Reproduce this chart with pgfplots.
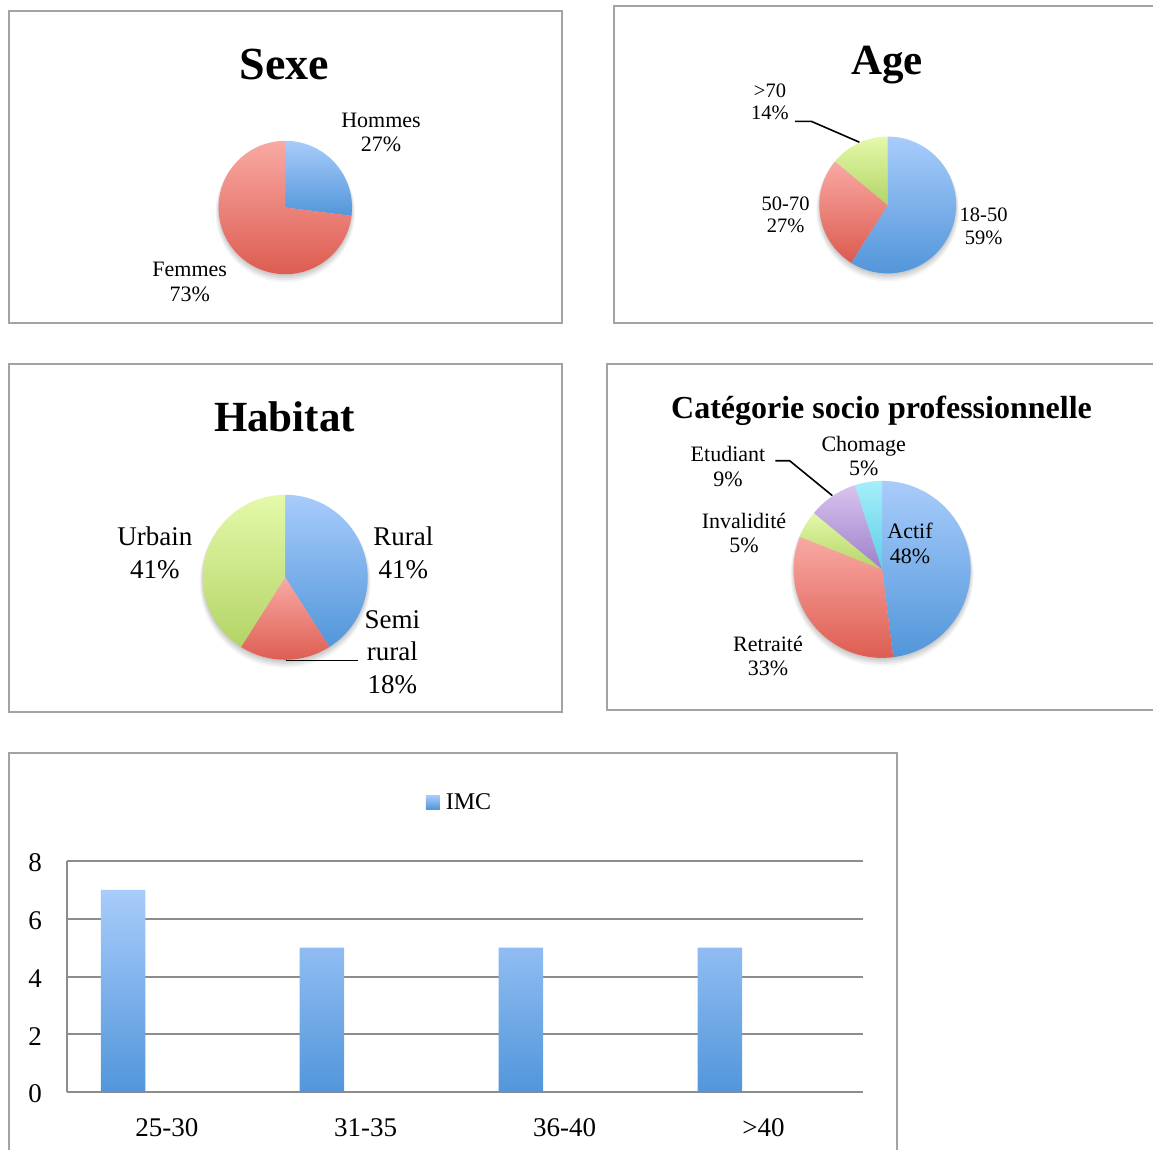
\documentclass[border=0pt]{standalone}
\usepackage{fontspec}
\setmainfont{Liberation Serif}
\usepackage{pgfplots}
\pgfplotsset{compat=1.18}
\definecolor{bT}{HTML}{A8CCFB}
\definecolor{bB}{HTML}{5296DA}
\definecolor{rT}{HTML}{F9A9A4}
\definecolor{rB}{HTML}{DC5A4E}
\definecolor{gT}{HTML}{E4F9AA}
\definecolor{gB}{HTML}{B3D466}
\definecolor{cT}{HTML}{A6EEFA}
\definecolor{cB}{HTML}{5CCEE8}
\definecolor{pT}{HTML}{D8C3EE}
\definecolor{pB}{HTML}{9D80CB}
\definecolor{frame}{HTML}{A3A3A3}
\definecolor{grid}{HTML}{8C8C8C}
\newcommand\fs[2]{\fontsize{#1}{#2}\selectfont}
% slice: #1 cumulative start (%), #2 share (%), #3 top colour, #4 bottom colour, #5 radius (pt)
\newcommand\slice[5]{%
  \pgfmathsetmacro\sa{90-3.6*#1}%
  \pgfmathsetmacro\ea{90-3.6*(#1+#2)}%
  \edef\tmp{\noexpand\path[top color=#3,bottom color=#4] (axis cs:0,0) -- ++(\sa:#5pt) arc[start angle=\sa,end angle=\ea,radius=#5pt] -- cycle;}%
  \tmp}
\newcommand\pieshadow[1]{%
  \path[fill=black,fill opacity=0.06] (axis cs:0,-2) circle[radius=#1pt];
  \path[fill=black,fill opacity=0.06] (axis cs:0,-3) circle[radius=#1pt+1pt];
  \path[fill=black,fill opacity=0.05] (axis cs:0,-4) circle[radius=#1pt+2pt];
  \path[fill=black,fill opacity=0.04] (axis cs:0,-5) circle[radius=#1pt+3pt];
}
\pgfplotsset{pie/.style={hide axis, x=1pt, y=1pt, xmin=-100, xmax=100, ymin=-100, ymax=100, anchor=center, clip=false}}
\begin{document}
\begin{tikzpicture}
\begin{scope}[x=1pt,y=1pt]
\useasboundingbox (0,0) rectangle (1153,-1150);
\fill[white] (0,0) rectangle (1153,-1150);
% frames
\draw[frame, line width=2pt] (9,-11) rectangle (561.5,-323);
\draw[frame, line width=2pt] (613.5,-6) rectangle (1165,-322.5);
\draw[frame, line width=2pt] (9,-364) rectangle (561.5,-711.5);
\draw[frame, line width=2pt] (606.5,-364) rectangle (1165,-709.5);
\draw[frame, line width=2pt] (9,-753) rectangle (897,-1165);
\end{scope}

% ---------- Sexe ----------
\begin{axis}[pie, at={(285.3pt,-207.5pt)}]
\pieshadow{66.7}
\slice{0}{27}{bT}{bB}{66.7}
\slice{27}{73}{rT}{rB}{66.7}
\end{axis}
% ---------- Age ----------
\begin{axis}[pie, at={(887.7pt,-205pt)}]
\pieshadow{68.4}
\slice{0}{59}{bT}{bB}{68.4}
\slice{59}{27}{rT}{rB}{68.4}
\slice{86}{14}{gT}{gB}{68.4}
\end{axis}
% ---------- Habitat ----------
\begin{axis}[pie, at={(285.2pt,-577.3pt)}]
\pieshadow{82.5}
\slice{0}{41}{bT}{bB}{82.5}
\slice{41}{18}{rT}{rB}{82.5}
\slice{59}{41}{gT}{gB}{82.5}
\end{axis}
% ---------- Categorie ----------
\begin{axis}[pie, at={(882.1pt,-569.4pt)}]
\pieshadow{88.5}
\slice{0}{48}{bT}{bB}{88.5}
\slice{48}{33}{rT}{rB}{88.5}
\slice{81}{5}{gT}{gB}{88.5}
\slice{86}{9}{pT}{pB}{88.5}
\slice{95}{5}{cT}{cB}{88.5}
\end{axis}

% ---------- IMC bar chart ----------
\begin{axis}[
  at={(67.3pt,-1092pt)}, anchor=south west,
  scale only axis, width=795.7pt, height=231pt,
  xmin=-0.5, xmax=3.5, ymin=0, ymax=8,
  xtick={0,1,2,3}, xticklabels={25-30,31-35,36-40,>40},
  ytick={0,2,4,6,8},
  axis x line=bottom, axis y line=left,
  axis line style={-, draw=grid, line width=2pt},
  ymajorgrids, grid style={draw=grid, line width=2pt},
  major tick length=0pt,
  /pgf/number format/assume math mode=true,
  tick label style={font=\fs{27}{30}},
  yticklabel style={xshift=-22pt, yshift=-2pt},
  xticklabel style={yshift=-23pt},
  legend style={draw=none, fill=none, at={(0.4465,1.2545)}, anchor=west, font=\fs{24}{26},
    /tikz/every odd column/.append style={column sep=4pt}},
  legend image code/.code={\path[top color=bT,bottom color=bB] (0pt,-7pt) rectangle (14pt,7pt);},
  clip=false,
]
\addplot[ybar, bar width=44.5pt, bar shift=-43.7pt, draw=none, top color=bT, bottom color=bB]
  coordinates {(0,7) (1,5) (2,5) (3,5)};
\legend{IMC}
\end{axis}

\begin{scope}[x=1pt,y=1pt]
% titles
\node[anchor=base, font=\fs{46}{50}\bfseries, inner sep=0pt] at (284.5,-80) {Sexe};
\node[anchor=base, font=\fs{43}{48}\bfseries, inner sep=0pt] at (887,-75) {Age};
\node[anchor=base, font=\fs{43}{48}\bfseries, inner sep=0pt] at (284.5,-431) {Habitat};
\node[anchor=base, font=\fs{32}{36}\bfseries, inner sep=0pt] at (881.5,-418) {Catégorie socio professionnelle};
% Sexe labels
\begin{scope}[every node/.style={anchor=base, inner sep=0pt, font=\fs{22}{24}}]
\node at (381,-127.7) {Hommes};
\node at (381,-152) {27\%};
\node at (189.7,-276.6) {Femmes};
\node at (189.7,-301) {73\%};
\end{scope}
% Age labels
\begin{scope}[every node/.style={anchor=base, inner sep=0pt, font=\fs{20.5}{22}}]
\node at (770,-97.3) {>70};
\node at (770,-119.8) {14\%};
\node at (785.6,-211) {50-70};
\node at (785.6,-233) {27\%};
\node at (983.6,-221.4) {18-50};
\node at (983.6,-244) {59\%};
\end{scope}
\draw[black, line width=1.6pt] (795,-121.4) -- (811.4,-121.4) -- (859.4,-142.2);
% Habitat labels
\begin{scope}[every node/.style={anchor=base, inner sep=0pt, font=\fs{27}{32}}]
\node at (154.8,-545.3) {Urbain};
\node at (154.8,-578.7) {41\%};
\node at (403.4,-545.3) {Rural};
\node at (403.4,-578.7) {41\%};
\node at (392.4,-628.7) {Semi};
\node at (392.4,-660.3) {rural};
\node at (392.4,-693) {18\%};
\end{scope}
\draw[black, line width=1.6pt] (285.6,-660.6) -- (358,-660.6);
% Categorie labels
\begin{scope}[every node/.style={anchor=base, inner sep=0pt, font=\fs{22}{24}}]
\node at (863.7,-451) {Chomage};
\node at (863.7,-475) {5\%};
\node at (728,-461.3) {Etudiant};
\node at (728,-486) {9\%};
\node at (744,-528) {Invalidité};
\node at (744,-552.6) {5\%};
\node at (910,-538.8) {Actif};
\node at (910,-563.3) {48\%};
\node at (768,-651.3) {Retraité};
\node at (768,-675.8) {33\%};
\end{scope}
\draw[black, line width=1.6pt] (775.3,-460.7) -- (789.6,-460.7) -- (832.3,-495.6);
\end{scope}
\end{tikzpicture}
\end{document}
